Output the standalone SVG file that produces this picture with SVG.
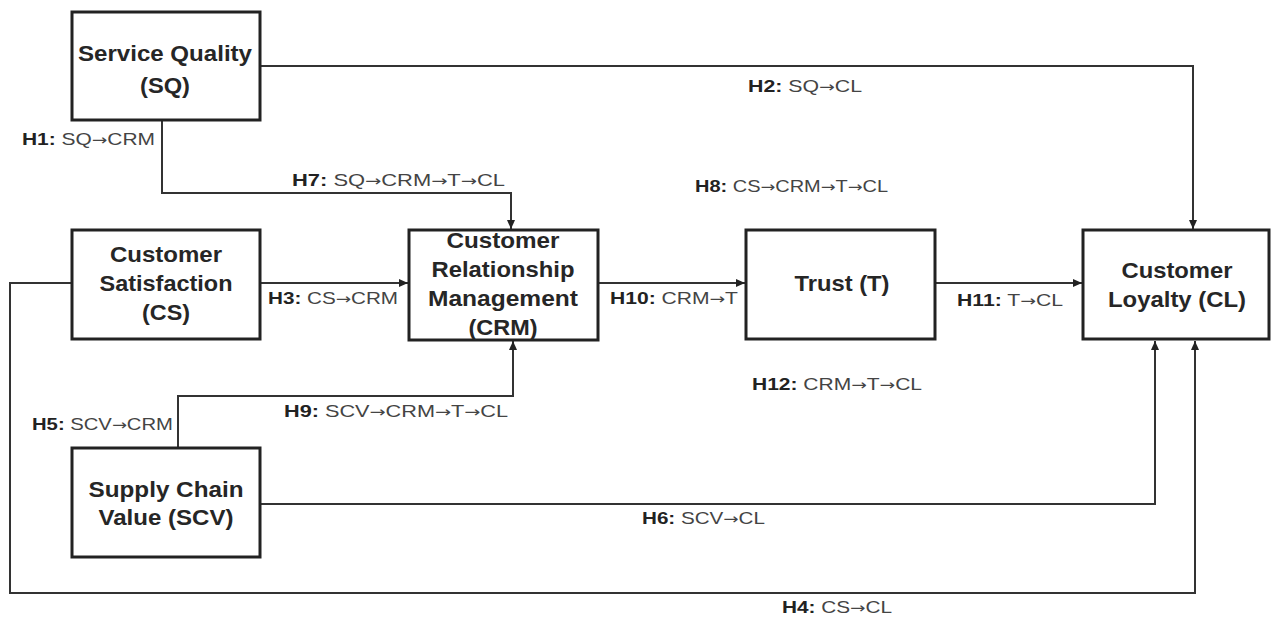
<svg xmlns="http://www.w3.org/2000/svg" width="1271" height="618" viewBox="0 0 1271 618">
<style>
.box{fill:#fff;stroke:#222;stroke-width:3}
.nt{font-family:"Liberation Sans",Arial,sans-serif;font-weight:bold;font-size:22px;fill:#262626;text-anchor:middle}
.ln{fill:none;stroke:#333;stroke-width:2}
.lb{font-family:"Liberation Sans",Arial,sans-serif;font-size:17px;fill:#444}
.lb tspan.b{font-weight:bold;fill:#222}
.lb tspan.a{font-family:"DejaVu Sans",sans-serif;font-size:15px}
</style>
<defs>
<marker id="ah" markerUnits="userSpaceOnUse" markerWidth="10" markerHeight="10" viewBox="0 0 10 10" refX="9" refY="5" orient="auto">
<path d="M0,1 L9,5 L0,9 Z" fill="#222"/>
</marker>
</defs>
<rect width="1271" height="618" fill="#fff"/>
<g id="connectors">
<path class="ln" d="M260,66 H1193 V229" marker-end="url(#ah)"/>
<path class="ln" d="M162,121 V193 H511 V229" marker-end="url(#ah)"/>
<path class="ln" d="M260,283 H408" marker-end="url(#ah)"/>
<path class="ln" d="M72,283 H10 V593 H1195 V341" marker-end="url(#ah)"/>
<path class="ln" d="M178,448 V396 H513 V341" marker-end="url(#ah)"/>
<path class="ln" d="M260,504 H1155 V341" marker-end="url(#ah)"/>
<path class="ln" d="M598,283 H745" marker-end="url(#ah)"/>
<path class="ln" d="M935,283 H1082" marker-end="url(#ah)"/>
</g>
<g id="labels">
<text class="lb" x="22" y="145" textLength="133" lengthAdjust="spacingAndGlyphs"><tspan class="b">H1:</tspan> SQ<tspan class="a">→</tspan>CRM</text>
<text class="lb" x="748" y="92" textLength="114" lengthAdjust="spacingAndGlyphs"><tspan class="b">H2:</tspan> SQ<tspan class="a">→</tspan>CL</text>
<text class="lb" x="292" y="186" textLength="213" lengthAdjust="spacingAndGlyphs"><tspan class="b">H7:</tspan> SQ<tspan class="a">→</tspan>CRM<tspan class="a">→</tspan>T<tspan class="a">→</tspan>CL</text>
<text class="lb" x="695" y="192" textLength="193" lengthAdjust="spacingAndGlyphs"><tspan class="b">H8:</tspan> CS<tspan class="a">→</tspan>CRM<tspan class="a">→</tspan>T<tspan class="a">→</tspan>CL</text>
<text class="lb" x="268" y="304" textLength="130" lengthAdjust="spacingAndGlyphs"><tspan class="b">H3:</tspan> CS<tspan class="a">→</tspan>CRM</text>
<text class="lb" x="610" y="304" textLength="128" lengthAdjust="spacingAndGlyphs"><tspan class="b">H10:</tspan> CRM<tspan class="a">→</tspan>T</text>
<text class="lb" x="957" y="306" textLength="106" lengthAdjust="spacingAndGlyphs"><tspan class="b">H11:</tspan> T<tspan class="a">→</tspan>CL</text>
<text class="lb" x="752" y="390" textLength="170" lengthAdjust="spacingAndGlyphs"><tspan class="b">H12:</tspan> CRM<tspan class="a">→</tspan>T<tspan class="a">→</tspan>CL</text>
<text class="lb" x="32" y="430" textLength="141" lengthAdjust="spacingAndGlyphs"><tspan class="b">H5:</tspan> SCV<tspan class="a">→</tspan>CRM</text>
<text class="lb" x="284" y="417" textLength="224" lengthAdjust="spacingAndGlyphs"><tspan class="b">H9:</tspan> SCV<tspan class="a">→</tspan>CRM<tspan class="a">→</tspan>T<tspan class="a">→</tspan>CL</text>
<text class="lb" x="642" y="524" textLength="123" lengthAdjust="spacingAndGlyphs"><tspan class="b">H6:</tspan> SCV<tspan class="a">→</tspan>CL</text>
<text class="lb" x="782" y="613" textLength="110" lengthAdjust="spacingAndGlyphs"><tspan class="b">H4:</tspan> CS<tspan class="a">→</tspan>CL</text>
</g>
<g id="SQ">
<rect class="box" x="72" y="12" width="188" height="108"/>
<text class="nt" x="165" y="61" textLength="174" lengthAdjust="spacingAndGlyphs">Service Quality</text>
<text class="nt" x="165" y="93" textLength="50" lengthAdjust="spacingAndGlyphs">(SQ)</text>
</g>
<g id="CS">
<rect class="box" x="72" y="230" width="188" height="109"/>
<text class="nt" x="166" y="262" textLength="112" lengthAdjust="spacingAndGlyphs">Customer</text>
<text class="nt" x="166" y="291" textLength="133" lengthAdjust="spacingAndGlyphs">Satisfaction</text>
<text class="nt" x="166" y="320" textLength="48" lengthAdjust="spacingAndGlyphs">(CS)</text>
</g>
<g id="CRM">
<rect class="box" x="409" y="230" width="189" height="110"/>
<text class="nt" x="503" y="248" textLength="113" lengthAdjust="spacingAndGlyphs">Customer</text>
<text class="nt" x="503" y="277" textLength="143" lengthAdjust="spacingAndGlyphs">Relationship</text>
<text class="nt" x="503" y="306" textLength="150" lengthAdjust="spacingAndGlyphs">Management</text>
<text class="nt" x="503" y="335" textLength="69" lengthAdjust="spacingAndGlyphs">(CRM)</text>
</g>
<g id="T">
<rect class="box" x="746" y="230" width="189" height="109"/>
<text class="nt" x="842" y="291" textLength="95" lengthAdjust="spacingAndGlyphs">Trust (T)</text>
</g>
<g id="CL">
<rect class="box" x="1083" y="230" width="186" height="109"/>
<text class="nt" x="1177" y="278" textLength="111" lengthAdjust="spacingAndGlyphs">Customer</text>
<text class="nt" x="1177" y="307" textLength="138" lengthAdjust="spacingAndGlyphs">Loyalty (CL)</text>
</g>
<g id="SCV">
<rect class="box" x="72" y="448" width="188" height="109"/>
<text class="nt" x="166" y="497" textLength="155" lengthAdjust="spacingAndGlyphs">Supply Chain</text>
<text class="nt" x="166" y="525" textLength="135" lengthAdjust="spacingAndGlyphs">Value (SCV)</text>
</g>
</svg>
